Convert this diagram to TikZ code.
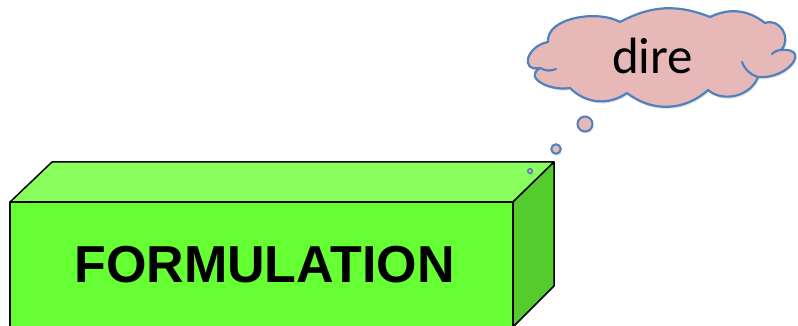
\documentclass[tikz,border=0pt]{standalone}
\usepackage{fontspec}
\usepackage{tikz}
\usetikzlibrary{shadows, positioning}
\newfontfamily\boxfont{Liberation Sans}
\newfontfamily\cloudfont{Carlito}
\definecolor{frontgreen}{HTML}{66FF33}
\definecolor{topgreen}{HTML}{88FF5C}
\definecolor{sidegreen}{HTML}{55CC2D}
\definecolor{cloudpink}{HTML}{E6B9B8}
\definecolor{cloudblue}{HTML}{4F81BD}

\begin{document}
\begin{tikzpicture}[
  x=1pt, y=-1pt,
  face/.style={draw=black, line width=1.5pt, line join=round},
  thought/.style={draw=cloudblue, line width=2.2pt, line join=round, fill=cloudpink, drop shadow={opacity=0.25, shadow xshift=1pt, shadow yshift=-2pt}},
  crease/.style={draw=cloudblue, line width=2.2pt, line cap=round},
  bubble/.style={circle, draw=cloudblue, line width=2pt, fill=cloudpink, inner sep=0pt, drop shadow={opacity=0.25, shadow xshift=1pt, shadow yshift=-2pt}}
]
  \useasboundingbox (0,0) rectangle (798,326);

  % the block
  \filldraw[face, fill=topgreen] (10,202) -- (52,162) -- (554,162) -- (513,202) -- cycle;
  \filldraw[face, fill=sidegreen] (513,202) -- (554,162) -- (554,286) -- (513,327) -- cycle;
  \filldraw[face, fill=frontgreen] (10,202) rectangle (513,332);
  \node[font=\boxfont\bfseries\fontsize{52}{52}\selectfont] (title) at (264.5,265) {FORMULATION};

  % the thought cloud
  \path[thought] (548,42) to[out=95, in=150, looseness=0.85] (620,22)
    to[bend left=25] (710,17) to[bend left=32] (765,23)
    to[out=20, in=45, looseness=1.3] (781,50)
    to[out=5, in=-5, looseness=2.2] (758,77)
    to[bend left=55] (708,90) to[bend left=40] (627,93)
    to[bend left=40] (570,88)
    to[out=190, in=210, looseness=1.4] (540,68)
    to[out=190, in=190, looseness=2] cycle;
  \draw[crease] (540,68) to[bend right=25] (556,69);
  \draw[crease] (758,77) to[bend left=25] (742,62);
  \draw[crease] (781,50) to[bend right=20] (772,54);
  \node[font=\cloudfont\fontsize{51}{51}\selectfont] (word) at (652.5,56) {dire};

  \node[bubble, minimum size=15pt] (big) at (585,124) {};
  \node[bubble, minimum size=9.5pt] (mid) at (556,149) {};
  \node[bubble, minimum size=4.5pt, line width=1.5pt] (small) at (530,171) {};
\end{tikzpicture}
\end{document}
